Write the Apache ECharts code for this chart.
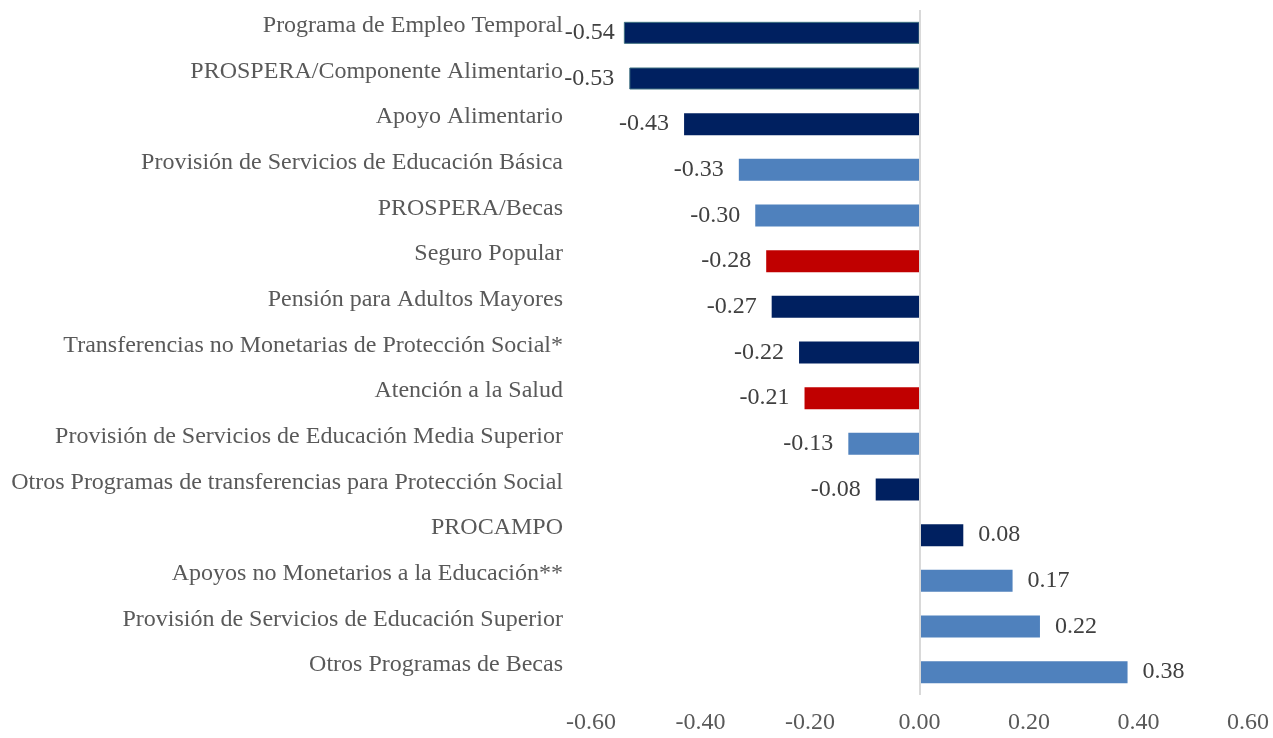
<!DOCTYPE html>
<html>
<head>
<meta charset="utf-8">
<script src="https://cdn.jsdelivr.net/npm/echarts@6/dist/echarts.min.js"></script>
<style>
  html, body { margin: 0; padding: 0; background: #fff; }
  #chart { width: 1273px; height: 738px; }
</style>
</head>
<body>
<div id="chart"></div>
<script>
// categories top to bottom
const categories = [
  'Programa de Empleo Temporal',
  'PROSPERA/Componente Alimentario',
  'Apoyo Alimentario',
  'Provisión de Servicios de Educación Básica',
  'PROSPERA/Becas',
  'Seguro Popular',
  'Pensión para Adultos Mayores',
  'Transferencias no Monetarias de Protección Social*',
  'Atención a la Salud',
  'Provisión de Servicios de Educación Media Superior',
  'Otros Programas de transferencias para Protección Social',
  'PROCAMPO',
  'Apoyos no Monetarios a la Educación**',
  'Provisión de Servicios de Educación Superior',
  'Otros Programas de Becas'
];
const values = [-0.54, -0.53, -0.43, -0.33, -0.30, -0.28, -0.27, -0.22, -0.21, -0.13, -0.08, 0.08, 0.17, 0.22, 0.38];
// grupo de cada programa: n = protección social, e = educación, s = salud
const groups = ['n', 'n', 'n', 'e', 'e', 's', 'n', 'n', 's', 'e', 'n', 'n', 'e', 'e', 'e'];
const tickLabels = ['-0.60', '-0.40', '-0.20', '0.00', '0.20', '0.40', '0.60'];

const colors = { n: '#002060', e: '#4F81BD', s: '#C00000' };
const font = '"Liberation Serif", "Times New Roman", serif';

const data = values.map((v, i) => {
  const item = {
    value: v,
    itemStyle: { color: colors[groups[i]] },
    label: { position: v < 0 ? 'left' : 'right', distance: 15 }
  };
  if (i < 2) {
    item.itemStyle.borderColor = '#3E7080';
    item.itemStyle.borderWidth = 1;
  }
  if (i === 0) item.label.distance = 9;
  return item;
});

const myChart = echarts.init(document.getElementById('chart'));
const option = {
  animation: false,
  grid: { left: 591, right: 25, top: 10, bottom: 43 },
  xAxis: {
    type: 'value',
    min: -0.6,
    max: 0.6,
    interval: 0.2,
    axisLine: { show: false },
    axisTick: { show: false },
    splitLine: { show: false },
    axisLabel: {
      margin: 16,
      color: '#595959',
      fontFamily: font,
      fontSize: 24,
      formatter: (v) => tickLabels[Math.round((v + 0.6) / 0.2)]
    }
  },
  yAxis: {
    type: 'category',
    data: categories,
    inverse: true,
    axisLine: { show: false },
    axisTick: { show: false },
    axisLabel: {
      margin: 28,
      color: '#595959',
      fontFamily: font,
      fontSize: 24,
      verticalAlign: 'bottom',
      lineHeight: 14
    }
  },
  series: [{
    type: 'bar',
    data: data,
    barWidth: 22,
    label: {
      show: true,
      color: '#404040',
      fontFamily: font,
      fontSize: 24,
      formatter: (p) => p.value.toFixed(2)
    },
    markLine: {
      silent: true,
      symbol: 'none',
      label: { show: false },
      lineStyle: { color: '#D9D9D9', type: 'solid', width: 2 },
      data: [{ xAxis: 0 }]
    }
  }]
};
myChart.setOption(option);
window.onresize = function () {
  myChart.resize();
};
</script>
</body>
</html>
